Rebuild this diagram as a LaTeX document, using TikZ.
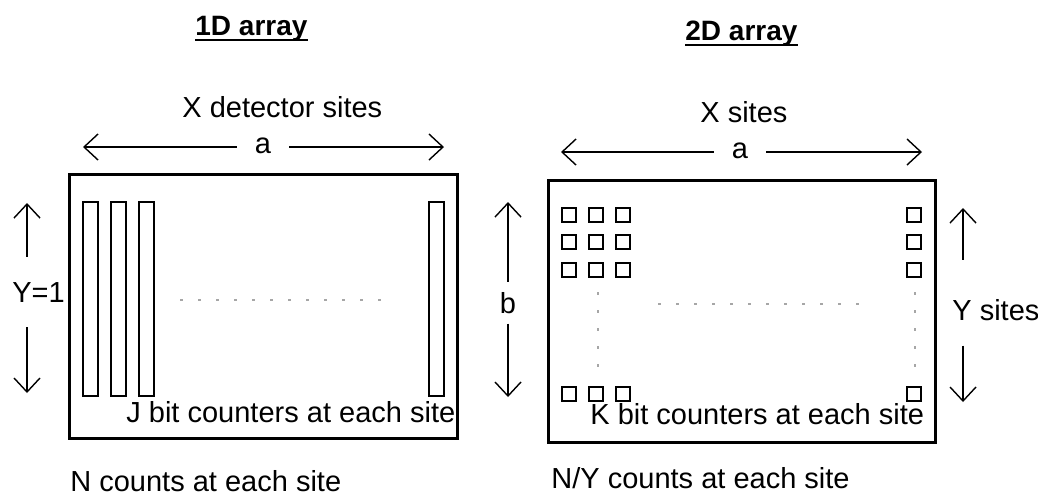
\documentclass[tikz,border=0pt]{standalone}
\usepackage{fontspec}
\setmainfont{Liberation Sans}
\usetikzlibrary{arrows.meta}

\begin{document}
\begin{tikzpicture}[
    x=0.5pt, y=-0.5pt,
    >={Straight Barb[length=7pt,width=13pt]},
    every node/.style={inner sep=0pt, font=\fontsize{14.5}{17}\selectfont},
    lbl/.style={anchor=base west},
    title/.style={anchor=base west, font=\fontsize{14}{16}\selectfont\bfseries},
    gaplbl/.style={anchor=base, inner xsep=9pt},
    frame/.style={draw=black, line width=1.5pt},
    counter/.style={draw=black, line width=1pt},
    cell/.style={draw=black, line width=1.2pt},
    dim/.style={->, line width=0.7pt},
    hint/.style={draw=black!35, line width=0.6pt, dash pattern=on 1.5pt off 7.5pt}
]
\useasboundingbox (0,0) rectangle (1038,495);

\node[title] (t1) at (195,35) {1D array};
\node[title] (t2) at (685,40) {2D array};
\draw[line width=1pt] ([yshift=-2.5pt]t1.base west) -- ([yshift=-2.5pt]t1.base east);
\draw[line width=1pt] ([yshift=-2.5pt]t2.base west) -- ([yshift=-2.5pt]t2.base east);

\draw[frame] (69,174) rectangle (457,438);
\draw[counter] (83,202) rectangle (98,396);
\draw[counter] (111,202) rectangle (126,396);
\draw[counter] (139,202) rectangle (154,396);
\draw[counter] (429,202) rectangle (444,396);
\draw[hint] (180,300) -- (388,300);

\node[lbl] (xdet) at (182,117) {X detector sites};
\coordinate (aL1) at (83,147);
\coordinate (aR1) at (444,147);
\node[gaplbl] (a1) at (263,153) {a};
\draw[dim] (a1.west |- aL1) -- (aL1);
\draw[dim] (a1.east |- aR1) -- (aR1);

\node[lbl, inner ysep=12.5pt] (yone) at (12,302) {Y=1};
\coordinate (yoneT) at (27,203);
\coordinate (yoneB) at (27,393);
\draw[dim] (yone.north -| yoneT) -- (yoneT);
\draw[dim] (yone.south -| yoneB) -- (yoneB);

\node[lbl] (jbit) at (126,422) {J bit counters at each site};
\node[lbl] (ncount) at (70,491) {N counts at each site};

\draw[frame] (548,180) rectangle (935,442);
\foreach \cx in {562,589,616} {
    \foreach \cy in {208,235,263,387}
        \draw[cell] (\cx,\cy) rectangle ++(14,14);
}
\foreach \cy in {208,235,263,387}
    \draw[cell] (907,\cy) rectangle ++(14,14);
\draw[hint] (658,304) -- (865,304);
\draw[hint] (598,292) -- (598,368);
\draw[hint] (915,292) -- (915,368);

\node[lbl] (xsites) at (700,122) {X sites};
\coordinate (aL2) at (561,152);
\coordinate (aR2) at (922,152);
\node[gaplbl] (a2) at (740,158) {a};
\draw[dim] (a2.west |- aL2) -- (aL2);
\draw[dim] (a2.east |- aR2) -- (aR2);

\node[anchor=base, inner ysep=5pt] (bside) at (508,313) {b};
\coordinate (bT) at (508,202);
\coordinate (bB) at (508,397);
\draw[dim] (bside.north -| bT) -- (bT);
\draw[dim] (bside.south -| bB) -- (bB);

\node[lbl, inner ysep=12.5pt] (ysites) at (952,320) {Y sites};
\coordinate (ysT) at (963,208);
\coordinate (ysB) at (963,402);
\draw[dim] ([yshift=7pt]ysites.north -| ysT) -- (ysT);
\draw[dim] (ysites.south -| ysB) -- (ysB);

\node[lbl] (kbit) at (590,424) {K bit counters at each site};
\node[lbl] (nycount) at (551,488) {N/Y counts at each site};
\end{tikzpicture}
\end{document}
